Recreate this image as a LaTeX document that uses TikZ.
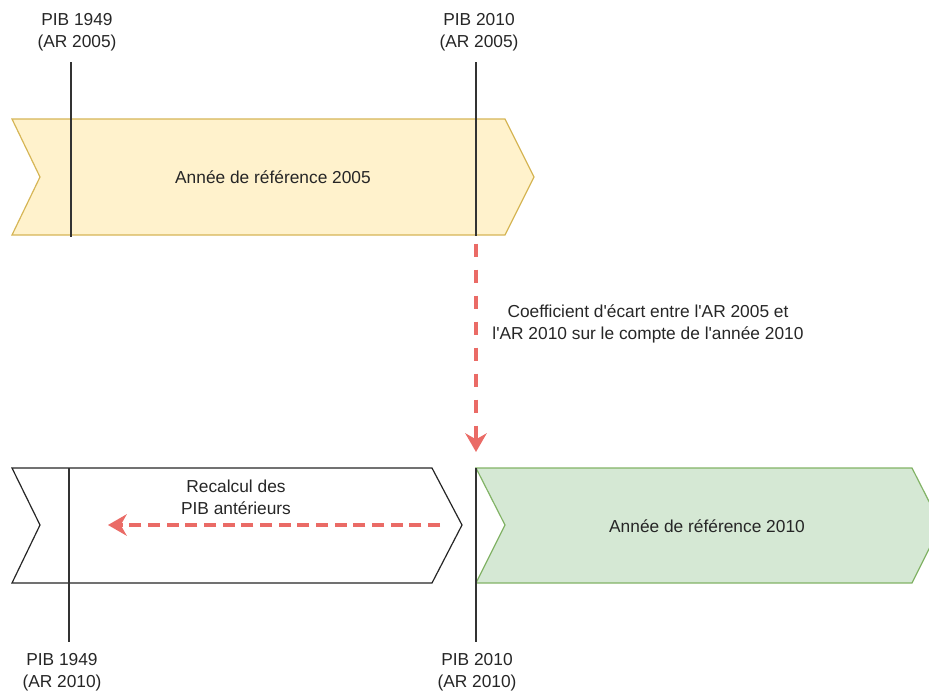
\documentclass[tikz,border=0pt]{standalone}
\usepackage{fontspec}
\setmainfont{Liberation Sans}[Ligatures=TeXOff]
\usetikzlibrary{arrows.meta}
\definecolor{arfivefill}{HTML}{FFF2CC}
\definecolor{arfiveline}{HTML}{D6B656}
\definecolor{artenfill}{HTML}{D5E8D4}
\definecolor{artenline}{HTML}{82B366}
\definecolor{recalc}{HTML}{EA6B66}

\begin{document}
\begin{tikzpicture}[x=0.75pt,y=-0.75pt]
        \tikzstyle{every node}+=[inner sep=0pt, align=center, font=\fontsize{13}{16.5}\selectfont, text=black!85]
        \tikzstyle{pibline}=[black!80, line width=1pt]
        \tikzstyle{redarrow}=[recalc, line width=2.6pt, -{Stealth[length=14pt,width=16pt,inset=4.5pt]}]
        \useasboundingbox (0,0) rectangle (929,690);
        % annee de reference 2005
        \draw [arfiveline, fill=arfivefill, line width=0.9pt] (12,119) -- (505,119) -- (534,177) -- (505,235) -- (12,235) -- (40,177) -- cycle;
        \draw (273,177) node (arfive) {Année de référence 2005};
        % annees recalculees
        \draw [black!85, fill=white, line width=0.9pt] (12,468) -- (432,468) -- (462,525) -- (432,583) -- (12,583) -- (40,525) -- cycle;
        \draw (236,497) node (recalcul) {Recalcul des\\PIB antérieurs};
        % annee de reference 2010
        \draw [artenline, fill=artenfill, line width=0.9pt] (476,468) -- (912,468) -- (941,525) -- (912,583) -- (476,583) -- (505,525) -- cycle;
        \draw (707,526) node (arten) {Année de référence 2010};
        % PIB marks
        \draw (77,32) node (pibA) {PIB 1949\\(AR 2005)};
        \draw (479,32) node (pibB) {PIB 2010\\(AR 2005)};
        \draw (62,672) node (pibC) {PIB 1949\\(AR 2010)};
        \draw (477,672) node (pibD) {PIB 2010\\(AR 2010)};
        \coordinate (mA1) at (71,62);
        \coordinate (mA2) at (71,237);
        \coordinate (mB1) at (476,62);
        \coordinate (mB2) at (476,236);
        \coordinate (mC1) at (69,468);
        \coordinate (mC2) at (69,642);
        \coordinate (mD1) at (476,468);
        \coordinate (mD2) at (476,642);
        \draw [pibline] (mA1) -- (mA2);
        \draw [pibline] (mB1) -- (mB2);
        \draw [pibline] (mC1) -- (mC2);
        \draw [pibline] (mD1) -- (mD2);
        % coefficient d'ecart
        \coordinate (ecart1) at (476,241);
        \coordinate (ecart2) at (476,452);
        \draw [redarrow, dash pattern=on 9.75pt off 9.75pt, dash phase=-2pt] (ecart1) -- (ecart2);
        \draw (648,324) node (coef) {Coefficient d'écart entre l'AR 2005 et\\l'AR 2010 sur le compte de l'année 2010};
        % retropolation
        \coordinate (retro1) at (440,525);
        \coordinate (retro2) at (108,525);
        \draw [redarrow, dash pattern=on 9pt off 5pt] (retro1) -- (retro2);
\end{tikzpicture}
\end{document}
